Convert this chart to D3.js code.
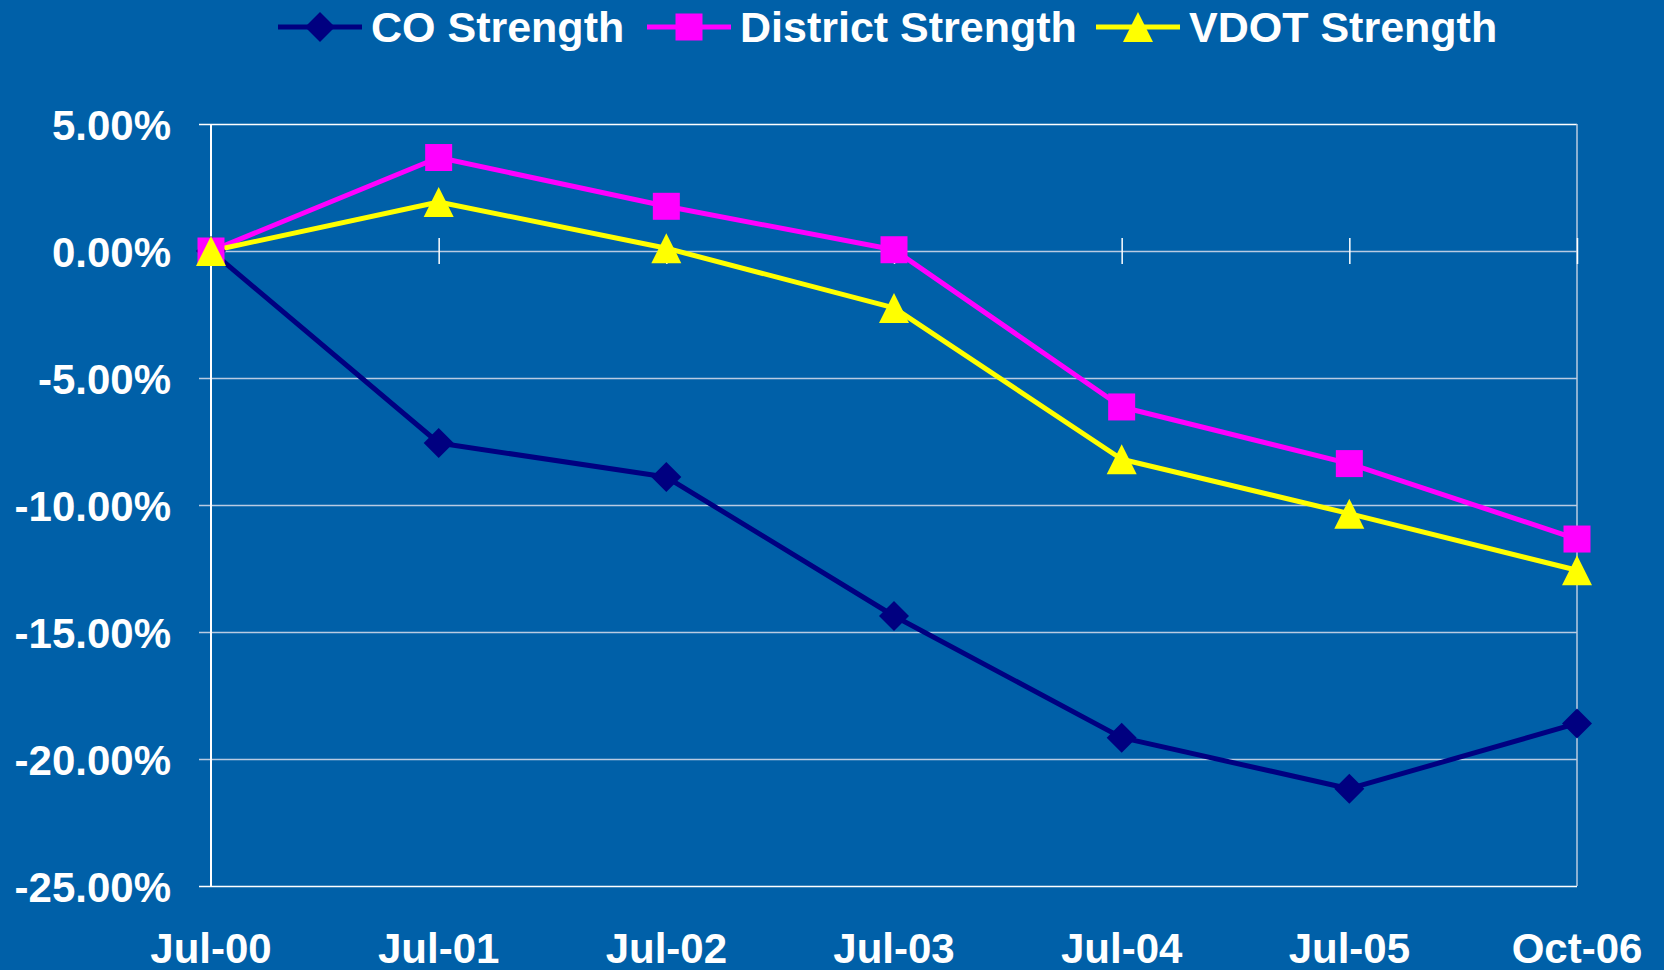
<!DOCTYPE html>
<html>
<head>
<meta charset="utf-8">
<script src="https://cdn.jsdelivr.net/npm/d3@7/dist/d3.min.js"></script>
<style>
  html, body { margin: 0; padding: 0; background: #0060a8; }
  svg { display: block; }
  text { font-family: "Liberation Sans", Arial, sans-serif; font-weight: bold; fill: #fff; }
</style>
</head>
<body>
<svg width="1664" height="970"></svg>
<script>
// data
const categories = ['Jul-00', 'Jul-01', 'Jul-02', 'Jul-03', 'Jul-04', 'Jul-05', 'Oct-06'];
const coStrength = [0, -7.56, -8.90, -14.37, -19.16, -21.17, -18.60];
const districtStrength = [0, 3.68, 1.76, 0.05, -6.14, -8.37, -11.34];
const vdotStrength = [0, 1.93, 0.11, -2.24, -8.20, -10.34, -12.57];
const yTicks = [5, 0, -5, -10, -15, -20, -25];

const series = [
  {name: 'CO Strength', values: coStrength, color: '#000080', marker: 'diamond'},
  {name: 'District Strength', values: districtStrength, color: '#ff00ff', marker: 'square'},
  {name: 'VDOT Strength', values: vdotStrength, color: '#ffff00', marker: 'triangle'}
];

const svg = d3.select('svg');
const margin = {top: 124, right: 87, bottom: 84, left: 211};
const width = +svg.attr('width');
const height = +svg.attr('height');
const innerWidth = width - margin.left - margin.right;
const innerHeight = height - margin.top - margin.bottom;

const xScale = d3.scalePoint()
  .domain(categories)
  .range([0, innerWidth]);

const yScale = d3.scaleLinear()
  .domain([-25, 5])
  .range([innerHeight, 0]);

// excel-ish marker shapes, centered on the point
const markerPath = (type, s) => {
  const h = s / 2;
  const p = d3.path();
  if (type === 'square') {
    p.rect(-h, -h, s, s);
  } else if (type === 'diamond') {
    p.moveTo(0, -h); p.lineTo(h, 0); p.lineTo(0, h); p.lineTo(-h, 0); p.closePath();
  } else {
    p.moveTo(0, -h); p.lineTo(h, h); p.lineTo(-h, h); p.closePath();
  }
  return p.toString();
};
const markerSize = {diamond: 30, square: 27, triangle: 30};

const g = svg.append('g')
  .attr('transform', `translate(${margin.left},${margin.top})`);

// gridlines
const yAxis = d3.axisLeft(yScale)
  .tickValues(yTicks)
  .tickSize(-innerWidth)
  .tickPadding(40)
  .tickFormat(d => d.toFixed(2) + '%');

const yAxisG = g.append('g').call(yAxis);
yAxisG.select('.domain').remove();
yAxisG.selectAll('.tick line')
  .attr('stroke', '#b9cbe2')
  .attr('stroke-width', 1.5)
  .attr('x1', -12);
yAxisG.selectAll('.tick text')
  .attr('font-size', 42)
  .attr('dy', '0.36em');
yAxisG.selectAll('.tick')
  .filter(d => d === 5 || d === -25)
  .select('line')
  .attr('stroke', '#ffffff');

// plot border
g.append('line')
  .attr('x1', 0).attr('x2', 0)
  .attr('y1', 0).attr('y2', innerHeight)
  .attr('stroke', '#fff').attr('stroke-width', 2);
g.append('line')
  .attr('x1', innerWidth).attr('x2', innerWidth)
  .attr('y1', 0).attr('y2', innerHeight)
  .attr('stroke', '#b9cbe2').attr('stroke-width', 1.5);

// category axis crosses at 0
const xAxis = d3.axisBottom(xScale)
  .tickSize(13)
  .tickSizeOuter(0)
  .tickFormat('');
const xAxisG = g.append('g')
  .attr('transform', `translate(0,${yScale(0)})`)
  .call(xAxis);
xAxisG.select('.domain').remove();
xAxisG.selectAll('.tick line')
  .attr('y1', -13)
  .attr('stroke', '#fff')
  .attr('stroke-width', 1.5);

// category labels along the bottom
g.append('g').selectAll('text')
  .data(categories)
  .join('text')
    .attr('x', d => xScale(d))
    .attr('y', innerHeight + 77)
    .attr('text-anchor', 'middle')
    .attr('font-size', 42)
    .text(d => d);

const lineGenerator = d3.line()
  .x((d, i) => xScale(categories[i]))
  .y(d => yScale(d));

// navy first so pink/yellow sit on top as in the original
series.forEach(s => {
  g.append('path')
    .attr('d', lineGenerator(s.values))
    .attr('fill', 'none')
    .attr('stroke', s.color)
    .attr('stroke-width', 5)
    .attr('stroke-linejoin', 'round');
});
series.forEach(s => {
  g.append('g').selectAll('path')
    .data(s.values)
    .join('path')
      .attr('transform', (d, i) => `translate(${xScale(categories[i])},${yScale(d)})`)
      .attr('d', markerPath(s.marker, markerSize[s.marker]))
      .attr('fill', s.color);
});

// legend
const legendX = [278, 647, 1096];
const legend = svg.append('g').attr('transform', 'translate(0,27)');
const item = legend.selectAll('g')
  .data(series)
  .join('g')
    .attr('transform', (d, i) => `translate(${legendX[i]},0)`);
item.append('line')
  .attr('x1', 0).attr('x2', 84)
  .attr('stroke', d => d.color)
  .attr('stroke-width', 5);
item.append('path')
  .attr('transform', 'translate(42,0)')
  .attr('d', d => markerPath(d.marker, markerSize[d.marker]))
  .attr('fill', d => d.color);
item.append('text')
  .attr('x', 93)
  .attr('y', 15)
  .attr('font-size', 43)
  .text(d => d.name);
</script>
</body>
</html>
